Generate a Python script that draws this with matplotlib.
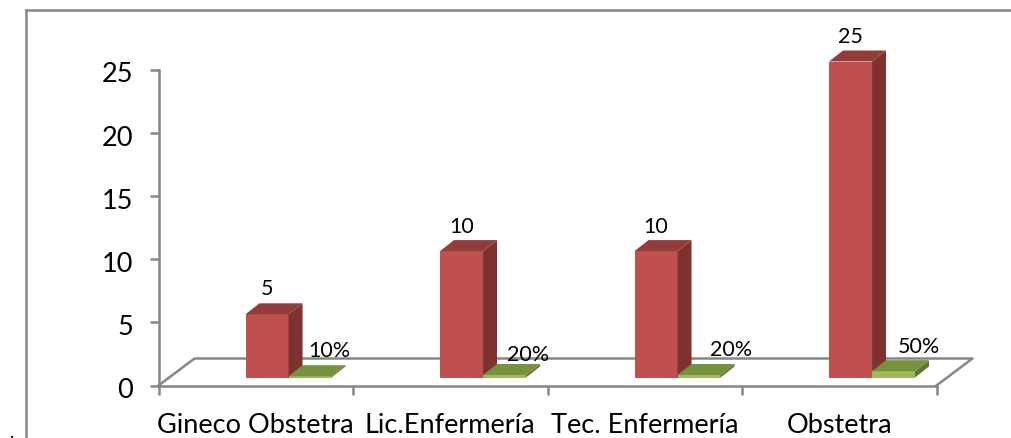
import matplotlib
matplotlib.use('Agg')
import matplotlib.pyplot as plt
from matplotlib.patches import Polygon
from matplotlib.lines import Line2D
from matplotlib.transforms import ScaledTranslation

plt.rcParams['font.family'] = ['Lato', 'DejaVu Sans']

categories = ['Gineco Obstetra', 'Lic.Enfermería', 'Tec. Enfermería', 'Obstetra']
counts = [5, 10, 10, 25]
shares = [0.1, 0.2, 0.2, 0.5]
count_labels = ['5', '10', '10', '25']
share_labels = ['10%', '20%', '20%', '50%']

W, H = 1011, 439
fig = plt.figure(figsize=(W / 100, H / 100), dpi=100)
ax = fig.add_axes([158.5 / W, (H - 386.5) / H, 778 / W, 316 / H])
ax.set_xlim(0, 4)
ax.set_ylim(0, 25)
ax.patch.set_visible(False)

grey = '#868686'
px_x = 4 / 778
px_y = 25 / 316
base = 8 * px_y
bar_w = 43 * px_x
dx = 14 * px_x
dy = 11 * px_y


def box(x, value, front, side, top):
    # front face plus the two oblique faces
    left = x - bar_w / 2
    right = x + bar_w / 2
    y1 = base + value
    ax.bar(x, value, bar_w, bottom=base, color=front, edgecolor='none', zorder=3, clip_on=False)
    ax.add_patch(Polygon([(right, base), (right + dx, base + dy), (right + dx, y1 + dy), (right, y1)],
                         closed=True, fc=side, ec='none', zorder=3, clip_on=False))
    ax.add_patch(Polygon([(left, y1), (left + dx, y1 + dy), (right + dx, y1 + dy), (right, y1)],
                         closed=True, fc=top, ec='none', zorder=3, clip_on=False))


# floor of the 3d box
floor = [(0, 0), (36 * px_x, 27 * px_y), (4 + 36 * px_x, 27 * px_y), (4, 0)]
ax.plot([p[0] for p in floor], [p[1] for p in floor], color=grey, lw=1.8, clip_on=False, zorder=1)

for i in range(4):
    box(i + 0.558, counts[i], '#c0504d', '#7e3230', '#943c39')
    box(i + 0.779, shares[i], '#9bbb59', '#5f7530', '#76923c')

count_off = [(0, 15), (0, 14), (0, 14), (0, 14)]
share_off = [(19, 5), (24, 0), (32, 5), (25, 4)]
for i in range(4):
    ax.annotate(count_labels[i], (i + 0.558, base + counts[i] + dy), xytext=count_off[i],
                textcoords='offset pixels', ha='center', va='center', fontsize=15.5, color='black',
                annotation_clip=False)
    ax.annotate(share_labels[i], (i + 0.779, base + shares[i] + dy), xytext=share_off[i],
                textcoords='offset pixels', ha='center', va='bottom', fontsize=15.5, color='black',
                annotation_clip=False)

for s in ['top', 'right']:
    ax.spines[s].set_visible(False)
for s in ['left', 'bottom']:
    ax.spines[s].set_color(grey)
    ax.spines[s].set_linewidth(1.8)

ax.set_yticks([0, 5, 10, 15, 20, 25])
ax.set_xticks([0, 1, 2, 3, 4])
ax.set_xticklabels([])
ax.set_xticks([0.5, 1.5, 2.5, 3.5], categories, minor=True)
ax.tick_params(axis='both', which='major', color=grey, width=1.8, length=6.5, labelsize=19.5, pad=12)
ax.tick_params(axis='x', which='minor', length=0, labelsize=19.5, pad=19)

# y labels sit a bit under their ticks in the original
down = ScaledTranslation(0, -2 / 100, fig.dpi_scale_trans)
for lab in ax.get_yticklabels():
    lab.set_transform(lab.get_transform() + down)

# chart frame, only top and left show in the crop
fig.add_artist(Line2D([26 / W, 26 / W], [0, 1 - 11 / H], color=grey, lw=1.8))
fig.add_artist(Line2D([26 / W, 1], [1 - 11 / H, 1 - 11 / H], color=grey, lw=1.8))
fig.text(12 / W, 1 - 433 / H, '.', fontsize=13, ha='center', va='center')

fig.savefig('out.png', dpi=100)
